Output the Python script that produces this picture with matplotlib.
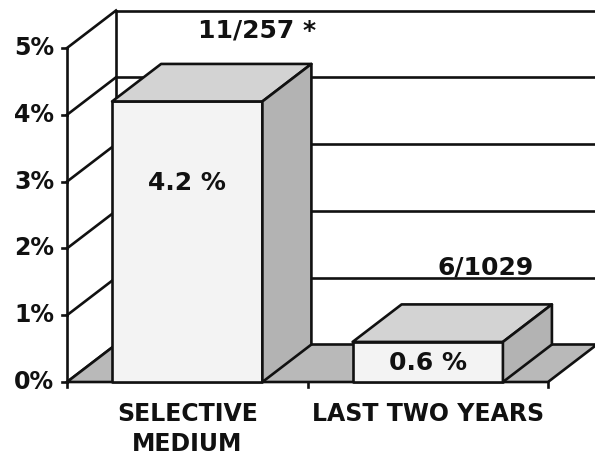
import matplotlib
matplotlib.use("Agg")
import matplotlib.pyplot as plt
from matplotlib.patches import Polygon

categories = ["SELECTIVE\nMEDIUM", "LAST TWO YEARS"]
values = [4.2, 0.6]
value_labels = ["4.2 %", "0.6 %"]
count_labels = ["11/257 *", "6/1029"]
yticks = [0, 1, 2, 3, 4, 5]
ytick_labels = ["0%", "1%", "2%", "3%", "4%", "5%"]

W, H = 595, 458
fig = plt.figure(figsize=(W / 100, H / 100), dpi=100)
ax = fig.add_axes([0, 0, 1, 1])
ax.axis("off")

# pixel geometry of the front plane -> data mapping
px_x0, px_x1 = 67.0, 548.0      # x data 0..2
px_y0, px_y5 = 382.0, 48.0      # y data 0..5
sx = (px_x1 - px_x0) / 2.0
sy = (px_y0 - px_y5) / 5.0
ax.set_xlim((0 - px_x0) / sx, (W - px_x0) / sx)
ax.set_ylim((px_y0 - H) / sy, px_y0 / sy)

dx = 49.0 / sx   # depth offset in data units
dy = 37.5 / sy

lc = "#111111"
lw = 1.9
ymax = 5
ncat = len(categories)

# back wall gridlines
for t in yticks:
    ax.plot([dx, ncat + dx + 1], [t + dy, t + dy], color=lc, lw=lw, zorder=2)
ax.plot([dx, dx], [dy, ymax + dy], color=lc, lw=lw, zorder=2)

# left wall
for t in yticks:
    ax.plot([0, dx], [t, t + dy], color=lc, lw=lw, zorder=2)
    ax.plot([-5.0 / sx, 0], [t, t], color=lc, lw=lw, zorder=2)
ax.plot([0, 0], [0, ymax], color=lc, lw=lw, zorder=3)

# floor
floor = Polygon([(0, 0), (ncat, 0), (ncat + dx, dy), (dx, dy)], closed=True,
                facecolor="#b9b9b9", edgecolor=lc, lw=lw, zorder=3, joinstyle="round")
ax.add_patch(floor)
for i in range(ncat + 1):
    ax.plot([i, i], [0, -5.0 / sy], color=lc, lw=lw, zorder=3)

# bars
bw = 0.625
value_label_frac = [0.71, 0.47]   # vertical placement of the value label within each bar
count_dx = [0.29, 0.24]           # placement of the count label relative to bar centre
count_dy = [0.50, 0.56]
for i, v in enumerate(values):
    xc = i + 0.5
    x0, x1 = xc - bw / 2, xc + bw / 2
    front = Polygon([(x0, 0), (x1, 0), (x1, v), (x0, v)], closed=True,
                    facecolor="#f3f3f3", edgecolor=lc, lw=lw, zorder=5 + i * 3)
    top = Polygon([(x0, v), (x1, v), (x1 + dx, v + dy), (x0 + dx, v + dy)], closed=True,
                  facecolor="#d3d3d3", edgecolor=lc, lw=lw, zorder=5 + i * 3)
    side = Polygon([(x1, 0), (x1 + dx, dy), (x1 + dx, v + dy), (x1, v)], closed=True,
                   facecolor="#b3b3b3", edgecolor=lc, lw=lw, zorder=5 + i * 3)
    for p in (front, top, side):
        p.set_joinstyle("round")
        ax.add_patch(p)
    ax.text(xc, v * value_label_frac[i], value_labels[i], ha="center", va="center",
            fontsize=18, fontweight="bold", color="#111111", zorder=20)
    ax.text(xc + count_dx[i], v + dy + count_dy[i], count_labels[i], ha="center",
            va="center", fontsize=18, fontweight="bold", color="#111111", zorder=20)
    ax.text(xc, -0.3, categories[i], ha="center", va="top", fontsize=17,
            fontweight="bold", color="#111111", linespacing=1.3, zorder=20)

for t, lab in zip(yticks, ytick_labels):
    ax.text(-13.0 / sx, t, lab, ha="right", va="center", fontsize=17,
            fontweight="bold", color="#111111")

fig.savefig("out.png", dpi=100)
